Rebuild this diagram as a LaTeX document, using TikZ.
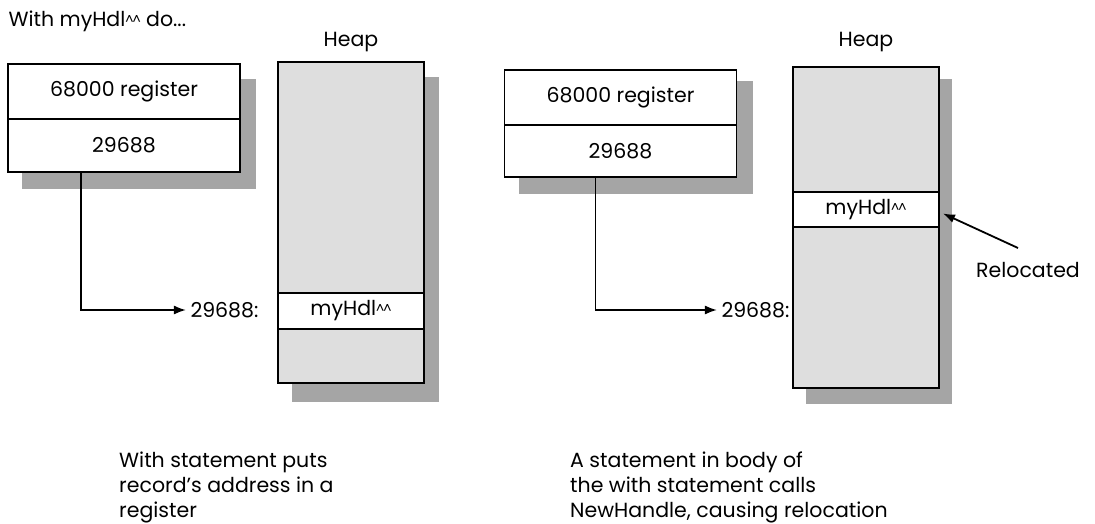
\documentclass[tikz,border=0pt]{standalone}
\usepackage{fontspec}
\setmainfont{Poppins}
\usetikzlibrary{arrows.meta,positioning,backgrounds}
\definecolor{heapgray}{RGB}{222,222,222}
\definecolor{shadegray}{RGB}{165,165,165}
\newcommand{\hdl}{myHdl\raisebox{2pt}{\fontsize{13}{13}\selectfont\textasciicircum\kern-1pt\textasciicircum}}
\begin{document}
\begin{tikzpicture}[x=1pt,y=-1pt, every node/.style={font=\fontsize{20.5}{25}\selectfont},
  cell/.style={draw,line width=1.8pt,fill=white,minimum width=232pt,inner sep=0pt,outer sep=0pt},
  heap/.style={draw,line width=1.8pt,fill=heapgray,minimum width=146pt,inner sep=0pt,outer sep=0pt},
  shade/.style={fill=shadegray},
  ptr/.style={line width=1.8pt,-{Latex[length=12pt,width=9pt]}}]
  \useasboundingbox (0,0) rectangle (1095,524);
  % left: before the call
  \node[anchor=west] (title) at (5,21) {With \hdl{} do...};
  \node (heapA) at (351,42) {Heap};
  \node[cell,minimum height=55pt] (regA) at (124,91.5) {68000 register};
  \node[cell,minimum height=53pt,below=0pt of regA] (valA) {29688};
  \node[heap,minimum height=231pt] (topA) at (351,177.5) {};
  \node[heap,fill=white,minimum height=36pt,below=0pt of topA] (hdlA) {\hdl};
  \node[heap,minimum height=54pt,below=0pt of hdlA] (botA) {};
  \node[anchor=east] (addrA) at (262,310) {29688:};
  \draw[ptr] ([xshift=-43pt]valA.south) |- ([xshift=-1pt]addrA.west);
  % right: after NewHandle
  \node (heapB) at (866,42) {Heap};
  \node[cell,minimum height=55pt] (regB) at (620.5,97.5) {68000 register};
  \node[cell,minimum height=52pt,below=0pt of regB] (valB) {29688};
  \node[heap,minimum height=125pt] (topB) at (866,129.5) {};
  \node[heap,fill=white,minimum height=35pt,below=0pt of topB] (hdlB) {\hdl};
  \node[heap,minimum height=161pt,below=0pt of hdlB] (botB) {};
  \node[anchor=east] (addrB) at (793,310) {29688:};
  \draw[ptr] ([xshift=-25pt]valB.south) |- ([xshift=-1pt]addrB.west);
  \node (moved) at (1028,270) {Relocated};
  \coordinate (tail) at (1018,248);
  \draw[ptr] (tail) -- ([shift={(4pt,-4pt)}]hdlB.east);
  % captions
  \node[anchor=north west,align=left,inner sep=0pt] (capA) at (119,452) {With statement puts\\record's address in a\\register};
  \node[anchor=north west,align=left,inner sep=0pt] (capB) at (570,452) {A statement in body of\\the with statement calls\\NewHandle, causing relocation};
  % shadows
  \begin{scope}[on background layer]
    \fill[shade] ([shift={(14pt,-15pt)}]regA.north west) rectangle ([shift={(16pt,-17pt)}]valA.south east);
    \fill[shade] ([shift={(14pt,-15pt)}]topA.north west) rectangle ([shift={(15pt,-19pt)}]botA.south east);
    \fill[shade] ([shift={(14pt,-11pt)}]regB.north west) rectangle ([shift={(16pt,-17pt)}]valB.south east);
    \fill[shade] ([shift={(13pt,-12pt)}]topB.north west) rectangle ([shift={(13pt,-16pt)}]botB.south east);
  \end{scope}
\end{tikzpicture}
\end{document}
